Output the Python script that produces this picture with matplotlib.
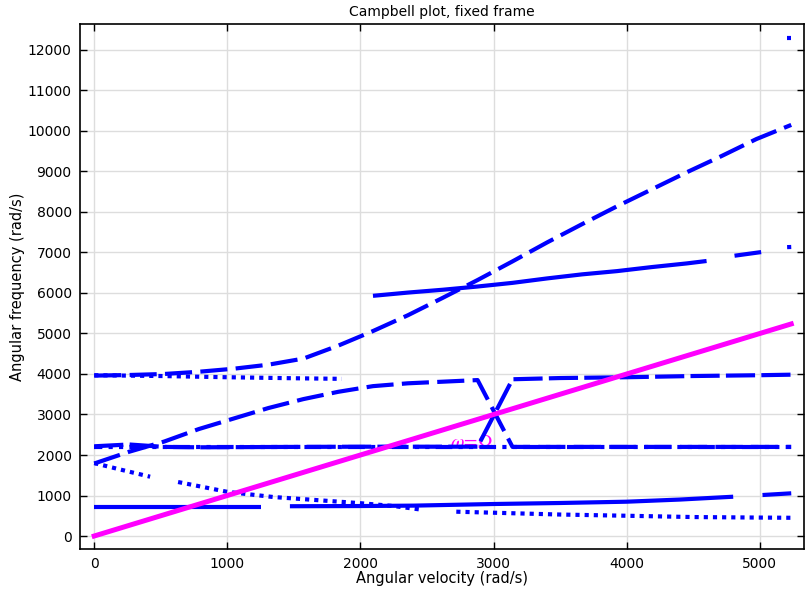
"""
campbell_plot.py - Campbell plot (fixed frame) of rotor eigenfrequencies
against spin speed, with the synchronous line omega = Omega.
"""

import matplotlib
matplotlib.use("Agg")
import matplotlib.pyplot as plt

BLUE = "#0000ff"
MAGENTA = "#ff00ff"

# ---------------------------------------------------------------------------
# Data (rad/s)
# ---------------------------------------------------------------------------

# lowest branch, solid, broken in three pieces
low_a_x = [0, 1250]
low_a_y = [720, 720]
low_b_x = [1470, 2000, 2400, 3000, 3500, 4000, 4400, 4800]
low_b_y = [735, 740, 750, 790, 815, 847, 900, 970]
low_c_x = [5020, 5236]
low_c_y = [1012, 1054]

# backward whirl branch starting at ~1800, dotted
bw_a_x = [0, 210, 420]
bw_a_y = [1800, 1630, 1464]
bw_b_x = [630, 1000, 1343, 1700, 2000, 2250, 2460]
bw_b_y = [1333, 1090, 963, 880, 810, 740, 650]
bw_c_x = [2720, 3000, 3500, 4000, 4500, 5000, 5236]
bw_c_y = [600, 575, 530, 500, 468, 455, 450]

# forward branch from ~1800, rises, then drops to 2200 after the crossing
fw_x = [0, 262, 524, 785, 1047, 1309, 1571, 1833, 2094, 2356, 2618, 2880,
        3142, 3600, 4200, 4800, 5236]
fw_y = [1790, 2080, 2330, 2640, 2900, 3160, 3380, 3560, 3700, 3770, 3810, 3850,
        2200, 2200, 2200, 2200, 2200]

# pair at 2200: one climbs to ~3900 at the crossing, one stays flat
mid_x = [0, 262, 524, 785, 1500, 2000, 2500, 2880, 3142, 3500, 4000, 4500,
         5000, 5236]
mid_y = [2215, 2260, 2200, 2190, 2200, 2205, 2205, 2205, 3870, 3900, 3920,
         3950, 3970, 3983]
flat_x = [0, 1000, 2000, 3000, 4000, 5236]
flat_y = [2200, 2200, 2200, 2200, 2200, 2200]

# pair at ~3950
upper_bw_x = [0, 500, 1000, 1500, 1860]
upper_bw_y = [3970, 3950, 3920, 3895, 3880]
upper_fw_x = [0, 262, 524, 785, 1047, 1309, 1571, 1833, 2094, 2356, 2618,
              2880, 3142, 3403, 3665, 3927, 4189, 4451, 4712, 4974, 5236]
upper_fw_y = [3960, 3975, 4000, 4055, 4130, 4230, 4380, 4700, 5060, 5450,
              5880, 6320, 6780, 7250, 7700, 8140, 8560, 8980, 9380, 9800, 10150]

# branch appearing at ~2100 rad/s
high_a_x = [2094, 2356, 2618, 2880, 3142, 3403, 3665, 3927, 4189, 4451, 4600]
high_a_y = [5930, 6010, 6080, 6160, 6250, 6360, 6460, 6540, 6640, 6730, 6790]
high_b_x = [4810, 5010]
high_b_y = [6920, 7010]
high_c_x = [5205, 5236]
high_c_y = [7132, 7136]

# mode only visible at the top speed
top_x = [5205, 5236]
top_y = [12296, 12296]

# synchronous line
sync_x = [0, 5236]
sync_y = [0, 5236]

DOT = (0, (1, 1.2))
DASH = (0, (6.5, 2))
LONGDASH = (0, (7, 1.5))
DASHDOTDOT = (2, (4, 1.5, 1, 1.5, 1, 1.5))


def main():
    fig = plt.figure(figsize=(8.07, 5.89), dpi=100)
    ax = fig.add_axes([0.0991, 0.0679, 0.8972, 0.8914])

    lw = 3.0
    ax.plot(low_a_x, low_a_y, color=BLUE, lw=lw, solid_capstyle="butt")
    ax.plot(low_b_x, low_b_y, color=BLUE, lw=lw, solid_capstyle="butt")
    ax.plot(low_c_x, low_c_y, color=BLUE, lw=lw, solid_capstyle="butt")

    for xs, ys in [(bw_a_x, bw_a_y), (bw_b_x, bw_b_y), (bw_c_x, bw_c_y)]:
        ax.plot(xs, ys, color=BLUE, lw=lw, ls=DOT)

    ax.plot(fw_x, fw_y, color=BLUE, lw=lw, ls=DASH)
    ax.plot(mid_x, mid_y, color=BLUE, lw=lw, ls=LONGDASH)
    ax.plot(flat_x, flat_y, color=BLUE, lw=lw, ls=DASHDOTDOT)

    ax.plot(upper_bw_x, upper_bw_y, color=BLUE, lw=lw, ls=DOT)
    ax.plot(upper_fw_x, upper_fw_y, color=BLUE, lw=lw, ls=DASH)

    ax.plot(high_a_x, high_a_y, color=BLUE, lw=lw, solid_capstyle="butt")
    ax.plot(high_b_x, high_b_y, color=BLUE, lw=lw, solid_capstyle="butt")
    ax.plot(high_c_x, high_c_y, color=BLUE, lw=lw, solid_capstyle="butt")
    ax.plot(top_x, top_y, color=BLUE, lw=lw, solid_capstyle="butt")

    ax.plot(sync_x, sync_y, color=MAGENTA, lw=3.6, zorder=4)
    ax.text(2840, 2300, r"$\omega\!=\!\Omega$", color=MAGENTA, fontsize=14,
            ha="center", va="center", math_fontfamily="stix", zorder=1)

    ax.set_xlim(-107, 5332)
    ax.set_ylim(-321, 12642)
    ax.set_xticks(range(0, 5001, 1000))
    ax.set_yticks(range(0, 12001, 1000))
    ax.grid(True, color="#dddddd", lw=1.0, zorder=0)
    ax.set_axisbelow(True)
    ax.tick_params(direction="in", length=5, width=1, top=True, right=True,
                   labelsize=10, pad=6)
    for spine in ax.spines.values():
        spine.set_linewidth(1.2)

    ax.set_title("Campbell plot, fixed frame", fontsize=10, pad=6)
    ax.set_xlabel("Angular velocity (rad/s)", fontsize=10.5, labelpad=0)
    ax.set_ylabel("Angular frequency (rad/s)", fontsize=10.5, labelpad=2)

    fig.savefig("out.png", dpi=100)


if __name__ == "__main__":
    main()
